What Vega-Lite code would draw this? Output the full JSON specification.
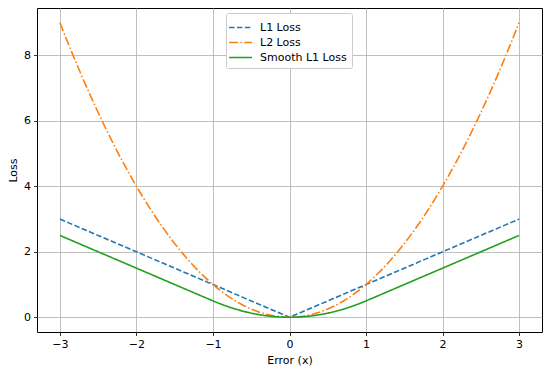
{
  "$schema": "https://vega.github.io/schema/vega-lite/v6.json",
  "width": 505,
  "height": 324,
  "autosize": "none",
  "padding": {"left": 37, "top": 8, "right": 8, "bottom": 40},
  "background": "white",
  "config": {
    "font": "DejaVu Sans",
    "view": {"stroke": "black", "strokeWidth": 1},
    "axis": {
      "domain": false,
      "grid": true,
      "gridColor": "#b0b0b0",
      "gridWidth": 0.8,
      "tickColor": "black",
      "tickSize": 3.5,
      "tickWidth": 0.8,
      "labelFontSize": 11,
      "labelColor": "black",
      "titleFontSize": 11,
      "titleFontWeight": "normal",
      "titleColor": "black",
      "labelPadding": 3
    }
  },
  "data": {
    "values": [
      {"x": -3.0, "L1 Loss": 3.0, "L2 Loss": 9.0, "Smooth L1 Loss": 2.5},
      {"x": -2.9, "L1 Loss": 2.9, "L2 Loss": 8.41, "Smooth L1 Loss": 2.4},
      {"x": -2.8, "L1 Loss": 2.8, "L2 Loss": 7.84, "Smooth L1 Loss": 2.3},
      {"x": -2.7, "L1 Loss": 2.7, "L2 Loss": 7.29, "Smooth L1 Loss": 2.2},
      {"x": -2.6, "L1 Loss": 2.6, "L2 Loss": 6.76, "Smooth L1 Loss": 2.1},
      {"x": -2.5, "L1 Loss": 2.5, "L2 Loss": 6.25, "Smooth L1 Loss": 2.0},
      {"x": -2.4, "L1 Loss": 2.4, "L2 Loss": 5.76, "Smooth L1 Loss": 1.9},
      {"x": -2.3, "L1 Loss": 2.3, "L2 Loss": 5.29, "Smooth L1 Loss": 1.8},
      {"x": -2.2, "L1 Loss": 2.2, "L2 Loss": 4.84, "Smooth L1 Loss": 1.7},
      {"x": -2.1, "L1 Loss": 2.1, "L2 Loss": 4.41, "Smooth L1 Loss": 1.6},
      {"x": -2.0, "L1 Loss": 2.0, "L2 Loss": 4.0, "Smooth L1 Loss": 1.5},
      {"x": -1.9, "L1 Loss": 1.9, "L2 Loss": 3.61, "Smooth L1 Loss": 1.4},
      {"x": -1.8, "L1 Loss": 1.8, "L2 Loss": 3.24, "Smooth L1 Loss": 1.3},
      {"x": -1.7, "L1 Loss": 1.7, "L2 Loss": 2.89, "Smooth L1 Loss": 1.2},
      {"x": -1.6, "L1 Loss": 1.6, "L2 Loss": 2.56, "Smooth L1 Loss": 1.1},
      {"x": -1.5, "L1 Loss": 1.5, "L2 Loss": 2.25, "Smooth L1 Loss": 1.0},
      {"x": -1.4, "L1 Loss": 1.4, "L2 Loss": 1.96, "Smooth L1 Loss": 0.9},
      {"x": -1.3, "L1 Loss": 1.3, "L2 Loss": 1.69, "Smooth L1 Loss": 0.8},
      {"x": -1.2, "L1 Loss": 1.2, "L2 Loss": 1.44, "Smooth L1 Loss": 0.7},
      {"x": -1.1, "L1 Loss": 1.1, "L2 Loss": 1.21, "Smooth L1 Loss": 0.6},
      {"x": -1.0, "L1 Loss": 1.0, "L2 Loss": 1.0, "Smooth L1 Loss": 0.5},
      {"x": -0.9, "L1 Loss": 0.9, "L2 Loss": 0.81, "Smooth L1 Loss": 0.405},
      {"x": -0.8, "L1 Loss": 0.8, "L2 Loss": 0.64, "Smooth L1 Loss": 0.32},
      {"x": -0.7, "L1 Loss": 0.7, "L2 Loss": 0.49, "Smooth L1 Loss": 0.245},
      {"x": -0.6, "L1 Loss": 0.6, "L2 Loss": 0.36, "Smooth L1 Loss": 0.18},
      {"x": -0.5, "L1 Loss": 0.5, "L2 Loss": 0.25, "Smooth L1 Loss": 0.125},
      {"x": -0.4, "L1 Loss": 0.4, "L2 Loss": 0.16, "Smooth L1 Loss": 0.08},
      {"x": -0.3, "L1 Loss": 0.3, "L2 Loss": 0.09, "Smooth L1 Loss": 0.045},
      {"x": -0.2, "L1 Loss": 0.2, "L2 Loss": 0.04, "Smooth L1 Loss": 0.02},
      {"x": -0.1, "L1 Loss": 0.1, "L2 Loss": 0.01, "Smooth L1 Loss": 0.005},
      {"x": 0.0, "L1 Loss": 0.0, "L2 Loss": 0.0, "Smooth L1 Loss": 0.0},
      {"x": 0.1, "L1 Loss": 0.1, "L2 Loss": 0.01, "Smooth L1 Loss": 0.005},
      {"x": 0.2, "L1 Loss": 0.2, "L2 Loss": 0.04, "Smooth L1 Loss": 0.02},
      {"x": 0.3, "L1 Loss": 0.3, "L2 Loss": 0.09, "Smooth L1 Loss": 0.045},
      {"x": 0.4, "L1 Loss": 0.4, "L2 Loss": 0.16, "Smooth L1 Loss": 0.08},
      {"x": 0.5, "L1 Loss": 0.5, "L2 Loss": 0.25, "Smooth L1 Loss": 0.125},
      {"x": 0.6, "L1 Loss": 0.6, "L2 Loss": 0.36, "Smooth L1 Loss": 0.18},
      {"x": 0.7, "L1 Loss": 0.7, "L2 Loss": 0.49, "Smooth L1 Loss": 0.245},
      {"x": 0.8, "L1 Loss": 0.8, "L2 Loss": 0.64, "Smooth L1 Loss": 0.32},
      {"x": 0.9, "L1 Loss": 0.9, "L2 Loss": 0.81, "Smooth L1 Loss": 0.405},
      {"x": 1.0, "L1 Loss": 1.0, "L2 Loss": 1.0, "Smooth L1 Loss": 0.5},
      {"x": 1.1, "L1 Loss": 1.1, "L2 Loss": 1.21, "Smooth L1 Loss": 0.6},
      {"x": 1.2, "L1 Loss": 1.2, "L2 Loss": 1.44, "Smooth L1 Loss": 0.7},
      {"x": 1.3, "L1 Loss": 1.3, "L2 Loss": 1.69, "Smooth L1 Loss": 0.8},
      {"x": 1.4, "L1 Loss": 1.4, "L2 Loss": 1.96, "Smooth L1 Loss": 0.9},
      {"x": 1.5, "L1 Loss": 1.5, "L2 Loss": 2.25, "Smooth L1 Loss": 1.0},
      {"x": 1.6, "L1 Loss": 1.6, "L2 Loss": 2.56, "Smooth L1 Loss": 1.1},
      {"x": 1.7, "L1 Loss": 1.7, "L2 Loss": 2.89, "Smooth L1 Loss": 1.2},
      {"x": 1.8, "L1 Loss": 1.8, "L2 Loss": 3.24, "Smooth L1 Loss": 1.3},
      {"x": 1.9, "L1 Loss": 1.9, "L2 Loss": 3.61, "Smooth L1 Loss": 1.4},
      {"x": 2.0, "L1 Loss": 2.0, "L2 Loss": 4.0, "Smooth L1 Loss": 1.5},
      {"x": 2.1, "L1 Loss": 2.1, "L2 Loss": 4.41, "Smooth L1 Loss": 1.6},
      {"x": 2.2, "L1 Loss": 2.2, "L2 Loss": 4.84, "Smooth L1 Loss": 1.7},
      {"x": 2.3, "L1 Loss": 2.3, "L2 Loss": 5.29, "Smooth L1 Loss": 1.8},
      {"x": 2.4, "L1 Loss": 2.4, "L2 Loss": 5.76, "Smooth L1 Loss": 1.9},
      {"x": 2.5, "L1 Loss": 2.5, "L2 Loss": 6.25, "Smooth L1 Loss": 2.0},
      {"x": 2.6, "L1 Loss": 2.6, "L2 Loss": 6.76, "Smooth L1 Loss": 2.1},
      {"x": 2.7, "L1 Loss": 2.7, "L2 Loss": 7.29, "Smooth L1 Loss": 2.2},
      {"x": 2.8, "L1 Loss": 2.8, "L2 Loss": 7.84, "Smooth L1 Loss": 2.3},
      {"x": 2.9, "L1 Loss": 2.9, "L2 Loss": 8.41, "Smooth L1 Loss": 2.4},
      {"x": 3.0, "L1 Loss": 3.0, "L2 Loss": 9.0, "Smooth L1 Loss": 2.5}
    ]
  },
  "transform": [
    {"fold": ["L1 Loss", "L2 Loss", "Smooth L1 Loss"], "as": ["series", "loss"]}
  ],
  "mark": {"type": "line", "strokeWidth": 1.6, "clip": true},
  "encoding": {
    "x": {
      "field": "x",
      "type": "quantitative",
      "title": "Error (x)",
      "scale": {"domain": [-3.3, 3.3], "nice": false, "zero": false},
      "axis": {"values": [-3, -2, -1, 0, 1, 2, 3], "labelExpr": "replace(datum.label, '-', '−')", "titlePadding": 5}
    },
    "y": {
      "field": "loss",
      "type": "quantitative",
      "title": "Loss",
      "scale": {"domain": [-0.45, 9.45], "nice": false, "zero": false},
      "axis": {"values": [0, 2, 4, 6, 8], "titlePadding": 5}
    },
    "color": {
      "field": "series",
      "type": "nominal",
      "title": null,
      "scale": {"domain": ["L1 Loss", "L2 Loss", "Smooth L1 Loss"], "range": ["#1f77b4", "#ff7f0e", "#22a022"]},
      "legend": {
        "orient": "none",
        "legendX": 189,
        "legendY": 5,
        "symbolType": "M-1.35,0H1.35",
        "symbolSize": 289,
        "symbolStrokeWidth": 1.6,
        "symbolFillColor": "transparent",
        "labelFontSize": 11,
        "labelColor": "black",
        "labelOffset": 10,
        "rowPadding": 0,
        "padding": 5,
        "strokeColor": "#cccccc",
        "fillColor": "white",
        "cornerRadius": 2
      }
    },
    "strokeDash": {
      "field": "series",
      "type": "nominal",
      "title": null,
      "scale": {"domain": ["L1 Loss", "L2 Loss", "Smooth L1 Loss"], "range": [[5.5, 2.4], [9, 2.4, 1.5, 2.4], [1, 0]]}
    }
  }
}
